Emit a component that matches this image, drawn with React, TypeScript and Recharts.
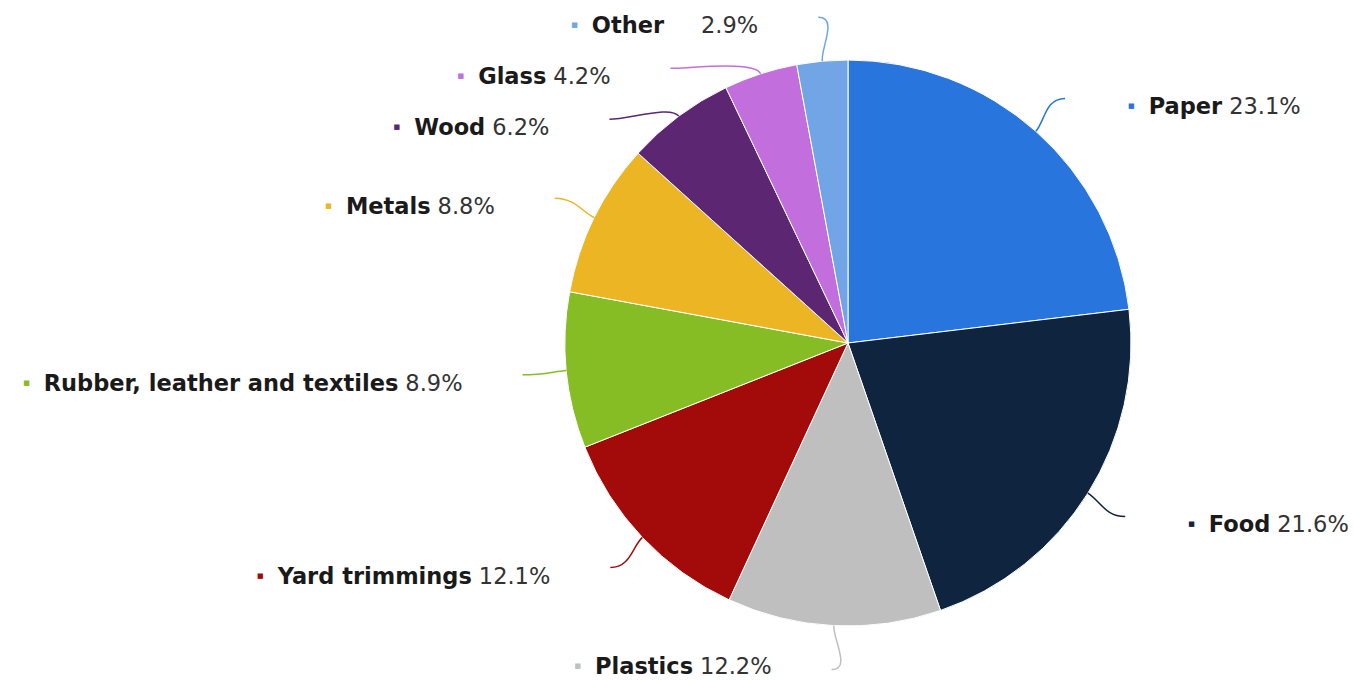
import React from "react";
import { PieChart, Pie, Cell } from "recharts";

const names = [
  "Paper",
  "Food",
  "Plastics",
  "Yard trimmings",
  "Rubber, leather and textiles",
  "Metals",
  "Wood",
  "Glass",
  "Other",
];
const shares = [23.1, 21.6, 12.2, 12.1, 8.9, 8.8, 6.2, 4.2, 2.9];
const colors = [
  "#2876dd",
  "#0f243e",
  "#bfbfbf",
  "#a30b0b",
  "#86bc24",
  "#ebb524",
  "#5c2673",
  "#c26fdd",
  "#71a5e6",
];

const data = names.map((name, i) => ({ name, value: shares[i] }));

const W = 1354;
const H = 681;
const CX = 848;
const CY = 343;
const R = 283;
const LR = 327; // where the connector ends
const GAP = 51; // min vertical spacing between labels on one side
const RAD = Math.PI / 180;

// spread labels so they don't overlap, roughly like the original
const layoutLabels = () => {
  const total = shares.reduce((a, b) => a + b, 0);
  let start = 90;
  const items = shares.map((v, i) => {
    const span = (360 * v) / total;
    const mid = start - span / 2;
    start -= span;
    const left = Math.cos(mid * RAD) < 0;
    return { i, mid, left, y: CY - LR * Math.sin(mid * RAD), x: 0 };
  });
  [true, false].forEach((side) => {
    const group = items.filter((d) => d.left === side).sort((a, b) => a.y - b.y);
    let prev = -Infinity;
    group.forEach((d) => {
      d.y = Math.max(d.y, prev + GAP);
      prev = d.y;
      const dy = Math.min(Math.abs(d.y - CY), LR);
      d.x = CX + (side ? -1 : 1) * Math.sqrt(LR * LR - dy * dy);
    });
  });
  return items.sort((a, b) => a.i - b.i);
};

const labelPos = layoutLabels();

const renderLabel = (props: any) => {
  const idx = props.index ?? names.indexOf(props.name);
  const p = labelPos[idx];
  if (!p) return null;
  const { cx, cy, outerRadius, midAngle } = props;
  const a = -midAngle * RAD;
  const sx = cx + outerRadius * Math.cos(a);
  const sy = cy + outerRadius * Math.sin(a);
  const c1x = cx + (outerRadius + 14) * Math.cos(a);
  const c1y = cy + (outerRadius + 14) * Math.sin(a);
  const c2x = p.x + (p.left ? 20 : -20);
  const color = colors[idx];
  const tx = p.left ? p.x - 60 : p.x + 63;
  const ty = Math.min(p.y + 8, H - 15);
  const extra = names[idx] === "Other" ? 30 : 0;
  return (
    <g>
      <path
        d={`M${sx},${sy} C${c1x},${c1y} ${c2x},${p.y} ${p.x},${p.y}`}
        stroke={color}
        strokeWidth={1.5}
        fill="none"
      />
      <text
        x={tx}
        y={ty}
        textAnchor={p.left ? "end" : "start"}
        dominantBaseline="central"
        fontFamily="'DejaVu Sans', sans-serif"
        fontSize={22.5}
      >
        <tspan fill={color} fontSize={7}>■</tspan>
        <tspan dx={14} fontWeight="bold" fill="#1a1a1a">
          {names[idx]}
        </tspan>
        <tspan dx={7 + extra} fill="#333">
          {shares[idx].toFixed(1)}%
        </tspan>
      </text>
    </g>
  );
};

const App: React.FC = () => {
  return (
    <div style={{ position: "absolute", left: 0, top: 0, background: "#fff" }}>
      <PieChart width={W} height={H} margin={{ top: 0, right: 0, bottom: 0, left: 0 }}>
        <Pie
          data={data}
          dataKey="value"
          nameKey="name"
          cx={CX}
          cy={CY}
          outerRadius={R}
          startAngle={90}
          endAngle={-270}
          stroke="#fff"
          strokeWidth={1}
          label={renderLabel}
          labelLine={false}
          isAnimationActive={false}
        >
          {data.map((d, i) => (
            <Cell key={d.name} fill={colors[i]} />
          ))}
        </Pie>
      </PieChart>
    </div>
  );
};

export default App;
